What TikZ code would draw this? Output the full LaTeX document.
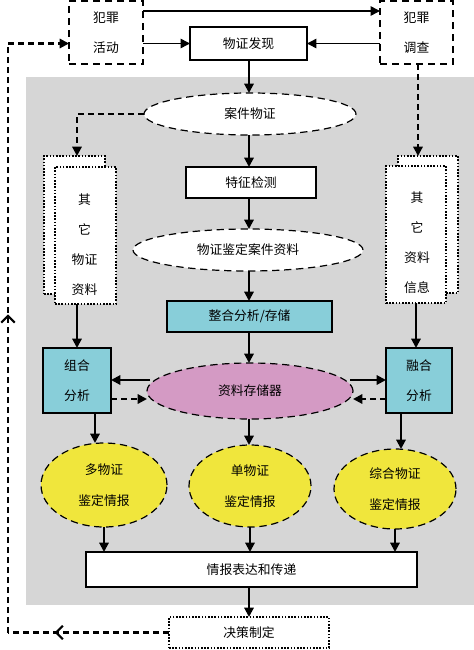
\documentclass[tikz,border=0pt]{standalone}
\usepackage{fontspec}
\newfontfamily\cjk{Noto Sans CJK SC}
\usetikzlibrary{arrows.meta,shapes.geometric,decorations.markings}
\newcommand{\pxu}{0.75pt}
\definecolor{bggray}{HTML}{D6D6D6}
\definecolor{cyanbox}{HTML}{88CED9}
\definecolor{pinkell}{HTML}{D49AC4}
\definecolor{yellell}{HTML}{F0E63C}
\begin{document}
\begin{tikzpicture}[x=0.75pt,y=-0.75pt,
  every node/.style={font=\cjk\fontsize{9.6}{12}\selectfont, inner sep=0pt, outer sep=0pt},
  sbox/.style={draw, line width=1.1pt, fill=white, rectangle},
  cbox/.style={draw, line width=1.1pt, fill=cyanbox, rectangle},
  dbox/.style={draw, line width=1.1pt, dash pattern=on 5pt off 4pt, rectangle},
  obox/.style={draw, line width=1.1pt, dash pattern=on 1.2pt off 1.2pt, fill=white, rectangle},
  dell/.style={draw, line width=0.9pt, dash pattern=on 5.5pt off 3.5pt, ellipse},
  twol/.style={align=center, font=\cjk\fontsize{9.6}{23}\selectfont},
  arr/.style={line width=1.5pt, -{Triangle[length=7pt,width=7pt]}},
  thinarr/.style={line width=1.1pt, -{Triangle[length=7pt,width=7pt]}},
  darr/.style={line width=1.6pt, dash pattern=on 4.5pt off 3pt, -{Triangle[length=7pt,width=7pt]}},
  loopln/.style={line width=1.6pt, dash pattern=on 4.5pt off 3pt}
]
\useasboundingbox (0,0) rectangle (474,650);
% gray background
\fill[bggray] (26,77) rectangle (474,605);

% top boxes
\node[dbox, minimum width=74*\pxu, minimum height=63*\pxu, twol] (fzhd) at (106,32.5) {犯罪\\活动};
\node[dbox, minimum width=73*\pxu, minimum height=63*\pxu, twol] (fzdc) at (416.5,32.5) {犯罪\\调查};
\node[sbox, minimum width=117*\pxu, minimum height=33*\pxu] (wzfx) at (248.5,43.5) {物证发现};

% central column
\node[dell, fill=white, minimum width=212*\pxu, minimum height=42*\pxu] (ajwz) at (250,114) {案件物证};
\node[sbox, minimum width=130*\pxu, minimum height=31*\pxu] (tzjc) at (251,182.5) {特征检测};
\node[dell, fill=white, minimum width=230*\pxu, minimum height=42*\pxu] (wzjd) at (248,250) {物证鉴定案件资料};
\node[cbox, minimum width=165*\pxu, minimum height=31*\pxu] (zhfx) at (249.5,316.5) {整合分析/存储};
\node[dell, fill=pinkell, minimum width=206*\pxu, minimum height=56*\pxu] (zlcc) at (250,391) {资料存储器};

% stacked boxes
\node[obox, minimum width=61*\pxu, minimum height=138*\pxu] (lback) at (74.5,225) {};
\node[obox, minimum width=61*\pxu, minimum height=137*\pxu] (lfront) at (85.5,235.5) {};
\node[align=center, font=\cjk\fontsize{9.6}{22.5}\selectfont] (ltxt) at (84.5,245) {其\\它\\物证\\资料};
\node[obox, minimum width=60*\pxu, minimum height=137*\pxu] (rback) at (428,224.5) {};
\node[obox, minimum width=60*\pxu, minimum height=137*\pxu] (rfront) at (416,234.5) {};
\node[align=center, font=\cjk\fontsize{9.6}{22.5}\selectfont] (rtxt) at (417,242.5) {其\\它\\资料\\信息};

% analysis boxes
\node[cbox, minimum width=68*\pxu, minimum height=65*\pxu, twol] (zhL) at (77,380.5) {组合\\分析};
\node[cbox, minimum width=66*\pxu, minimum height=65*\pxu, twol] (rhR) at (419,380.5) {融合\\分析};

% yellow ellipses
\node[dell, fill=yellell, minimum width=126*\pxu, minimum height=84*\pxu, twol] (e1) at (104,485) {多物证\\鉴定情报};
\node[dell, fill=yellell, minimum width=122*\pxu, minimum height=82*\pxu, twol] (e2) at (250,486) {单物证\\鉴定情报};
\node[dell, fill=yellell, minimum width=122*\pxu, minimum height=80*\pxu, twol] (e3) at (395,489) {综合物证\\鉴定情报};

% bottom boxes
\node[sbox, minimum width=331*\pxu, minimum height=35*\pxu] (qb) at (251.5,569.5) {情报表达和传递};
\node[obox, minimum width=160*\pxu, minimum height=31*\pxu] (jc) at (249,632.5) {决策制定};

% helper coordinates
\coordinate (ytop) at (0,11);
\coordinate (xc) at (249,0);
\coordinate (xl) at (77,0);
\coordinate (xr) at (418,0);
\coordinate (yajw) at (0,114);
\coordinate (ysolid) at (0,380);
\coordinate (ydash) at (0,399);
\coordinate (sL) at (150,380);
\coordinate (sR) at (350,380);
\coordinate (dL) at (147,399);
\coordinate (dR) at (353,399);
\coordinate (xe1) at (95,0);
\coordinate (xe3) at (401,0);
\coordinate (lpx) at (8,0);

% top arrows
\draw[thinarr] (fzhd.east |- ytop) -- (fzdc.west |- ytop);
\draw[thinarr] (fzhd.east |- wzfx.west) -- (wzfx.west);
\draw[thinarr] (fzdc.west |- wzfx.east) -- (wzfx.east);

% central vertical arrows
\draw[arr] (xc |- wzfx.south) -- (xc |- ajwz.north);
\draw[arr] (xc |- ajwz.south) -- (xc |- tzjc.north);
\draw[arr] (xc |- tzjc.south) -- (xc |- wzjd.north);
\draw[arr] (xc |- wzjd.south) -- (xc |- zhfx.north);
\draw[arr] (xc |- zhfx.south) -- (xc |- zlcc.north);
\draw[arr] (xc |- zlcc.south) -- (xc |- e2.north);

% dashed side feeds
\draw[darr] (ajwz.west) -- (xl |- yajw) -- (xl |- lback.north);
\draw[darr] (xr |- fzdc.south) -- (xr |- rback.north);

% stacks to analysis boxes
\draw[arr] (zhL.north |- lfront.south) -- (zhL.north);
\draw[arr] (rfront.south) -- (rfront.south |- rhR.north);

% storage <-> analysis
\draw[arr] (sL) -- (zhL.east |- ysolid);
\draw[darr] (zhL.east |- ydash) -- (dL);
\draw[arr] (sR) -- (rhR.west |- ysolid);
\draw[darr] (rhR.west |- ydash) -- (dR);

% analysis to ellipses
\draw[arr] (xe1 |- zhL.south) -- (xe1 |- e1.north);
\draw[arr] (xe3 |- rhR.south) -- (xe3 |- e3.north);

% ellipses to qb
\draw[arr] (e1.south) -- (e1.south |- qb.north);
\draw[arr] (e2.south) -- (e2.south |- qb.north);
\draw[arr] (e3.south) -- (e3.south |- qb.north);
\draw[arr] (xc |- qb.south) -- (xc |- jc.north);

% feedback loop
\draw[loopln, postaction={decorate}, decoration={markings,
   mark=at position 0.71 with {\arrow[line width=1.6pt]{Straight Barb[length=5pt,width=10pt]}}}]
   (jc.west) -- (lpx |- jc.west);
\draw[loopln, postaction={decorate}, decoration={markings,
   mark=at position 0.54 with {\arrow[line width=1.6pt]{Straight Barb[length=5pt,width=10pt]}}}]
   (lpx |- jc.west) -- (lpx |- wzfx.west);
\draw[darr] (lpx |- wzfx.west) -- (fzhd.west |- wzfx.west);
\end{tikzpicture}
\end{document}
